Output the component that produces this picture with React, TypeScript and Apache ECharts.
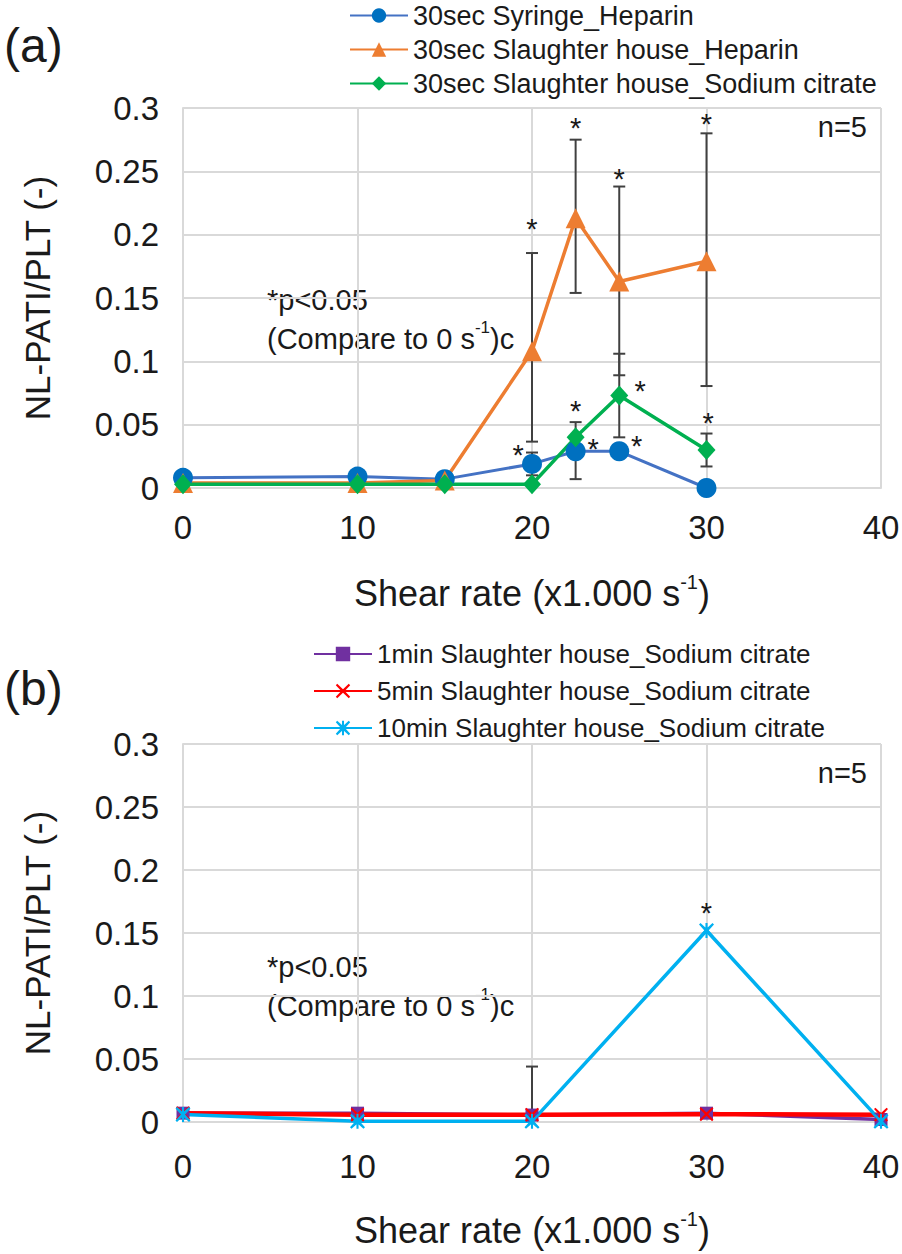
import React, { useRef, useEffect } from 'react';
import * as echarts from 'echarts';

const FONT = '"Liberation Sans", Arial, sans-serif';
const INK = '#1a1a1a';
const GRID = '#D9D9D9';
const BAR = '#404040';

// panel (a)
const namesA = [
  '30sec Syringe_Heparin',
  '30sec Slaughter house_Heparin',
  '30sec Slaughter house_Sodium citrate',
];
const shearA = [0, 10, 15, 20, 22.5, 25, 30];
const syringeHeparin = [0.008, 0.009, 0.007, 0.019, 0.029, 0.029, 0];
const slaughterHeparin = [0.004, 0.004, 0.006, 0.108, 0.213, 0.163, 0.179];
const slaughterCitrate = [0.003, 0.003, 0.003, 0.003, 0.04, 0.073, 0.03];
// [x, low, high]
const errorsA = [
  [20, 0.0366, 0.1855],
  [20, 0.01, 0.028],
  [22.5, 0.154, 0.275],
  [22.5, 0.007, 0.052],
  [25, 0.089, 0.238],
  [25, 0.04, 0.106],
  [30, 0.0805, 0.28],
  [30, 0.017, 0.043],
];
const starsA = [
  [20, 0.209], [22.5, 0.289], [25, 0.249], [30, 0.292],
  [22.5, 0.0655], [26.2, 0.081], [30.1, 0.056],
  [19.2, 0.031], [23.5, 0.0355], [26, 0.038],
];

// panel (b)
const namesB = [
  '1min Slaughter house_Sodium citrate',
  '5min Slaughter house_Sodium citrate',
  '10min Slaughter house_Sodium citrate',
];
const shearB = [0, 10, 20, 30, 40];
const oneMin = [0.007, 0.007, 0.0055, 0.007, 0.002];
const fiveMin = [0.007, 0.0058, 0.0058, 0.0062, 0.0058];
const tenMin = [0.006, 0.0005, 0.0005, 0.152, 0.0005];
const errorsB = [[20, 0.0055, 0.044]];
const starsB = [[30, 0.171]];

const xTicks = [0, 10, 20, 30, 40];
const yTicks = [0, 0.05, 0.1, 0.15, 0.2, 0.25, 0.3];

const X_SYMBOL = 'path://M1,0 L5,3.8 L9,0 L10,1 L6.2,5 L10,9 L9,10 L5,6.2 L1,10 L0,9 L3.8,5 L0,1 Z';
const STAR_SYMBOL =
  'path://M1,0 L5,3.6 L9,0 L10,1 L6.4,5 L10,9 L9,10 L5,6.4 L1,10 L0,9 L3.6,5 L0,1 Z M4.3,0 L5.7,0 L5.7,10 L4.3,10 Z';

const pairs = (xs: number[], ys: number[]) => xs.map((x, i) => [x, ys[i]]);

const errorSeries = (data: number[][], idx: number) => ({
  type: 'custom',
  xAxisIndex: idx,
  yAxisIndex: idx,
  z: 1,
  silent: true,
  encode: { x: 0, y: [1, 2] },
  data,
  renderItem: (_p: any, api: any) => {
    const lo = api.coord([api.value(0), api.value(1)]);
    const hi = api.coord([api.value(0), api.value(2)]);
    const w = 6;
    const style = { stroke: BAR, lineWidth: 2 };
    return {
      type: 'group',
      children: [
        { type: 'line', shape: { x1: lo[0], y1: lo[1], x2: hi[0], y2: hi[1] }, style },
        { type: 'line', shape: { x1: lo[0] - w, y1: lo[1], x2: lo[0] + w, y2: lo[1] }, style },
        { type: 'line', shape: { x1: hi[0] - w, y1: hi[1], x2: hi[0] + w, y2: hi[1] }, style },
      ],
    };
  },
});

const starSeries = (data: number[][], idx: number) => ({
  type: 'custom',
  xAxisIndex: idx,
  yAxisIndex: idx,
  z: 5,
  silent: true,
  data,
  renderItem: (_p: any, api: any) => {
    const p = api.coord([api.value(0), api.value(1)]);
    return {
      type: 'text',
      x: p[0],
      y: p[1] + 6,
      style: { text: '*', fontSize: 29, fontFamily: FONT, fill: INK, align: 'center', verticalAlign: 'middle' },
    };
  },
});

const xAxis = (idx: number, gap: number, margin: number) => ({
  type: 'value',
  gridIndex: idx,
  min: xTicks[0],
  max: xTicks[xTicks.length - 1],
  interval: 10,
  name: 'Shear rate (x1.000 s{sup|-1})',
  nameLocation: 'middle',
  nameGap: gap,
  nameTextStyle: {
    fontSize: 36,
    fontFamily: FONT,
    color: INK,
    lineHeight: 42,
    rich: { sup: { fontSize: 20, fontFamily: FONT, color: INK, verticalAlign: 'top', lineHeight: 30 } },
  },
  axisLine: { show: true, lineStyle: { color: GRID, width: 2 } },
  axisTick: { show: false },
  splitLine: { show: true, lineStyle: { color: GRID, width: 2 } },
  axisLabel: { fontSize: 33, fontFamily: FONT, color: INK, margin },
});

const yAxis = (idx: number) => ({
  type: 'value',
  gridIndex: idx,
  min: yTicks[0],
  max: yTicks[yTicks.length - 1],
  interval: 0.05,
  name: 'NL-PATI/PLT (-)',
  nameLocation: 'middle',
  nameGap: 128,
  nameTextStyle: { fontSize: 35, fontFamily: FONT, color: INK },
  axisLine: { show: true, lineStyle: { color: GRID, width: 2 } },
  axisTick: { show: false },
  splitLine: { show: true, lineStyle: { color: GRID, width: 2 } },
  axisLabel: {
    fontSize: 33,
    fontFamily: FONT,
    color: INK,
    margin: 24,
    formatter: (v: number) => String(+v.toFixed(2)),
  },
});

const lineSeries = (
  name: string,
  idx: number,
  data: number[][],
  lineColor: string,
  markColor: string,
  symbol: string,
  symbolSize: number | number[],
  width: number
) => ({
  type: 'line',
  name,
  xAxisIndex: idx,
  yAxisIndex: idx,
  data,
  symbol,
  symbolSize,
  z: 3,
  lineStyle: { color: lineColor, width },
  itemStyle: { color: markColor },
});

const legend = (names: string[], left: number, top: number, gap: number, size: number) => ({
  data: names,
  orient: 'vertical',
  left,
  top,
  padding: 0,
  itemWidth: 58,
  itemHeight: 18,
  itemGap: gap,
  selectedMode: false,
  textStyle: { fontSize: size, fontFamily: FONT, color: INK },
});

const annotation = (x: number, y: number) => [
  {
    type: 'text',
    x,
    y,
    style: { text: '*p<0.05', fontSize: 29, fontFamily: FONT, fill: INK, verticalAlign: 'middle' },
  },
  {
    type: 'text',
    x,
    y: y + 39,
    style: {
      text: '(Compare to 0 s{sup|-1})c',
      fontSize: 29,
      fontFamily: FONT,
      fill: INK,
      verticalAlign: 'middle',
      lineHeight: 40,
      rich: { sup: { fontSize: 17, fontFamily: FONT, fill: INK, verticalAlign: 'top', lineHeight: 10 } },
    },
  },
];

const App: React.FC = () => {
  const chartRef = useRef<HTMLDivElement>(null);

  useEffect(() => {
    document.body.style.margin = '0';
    const chart = echarts.init(chartRef.current, null, { renderer: 'svg' });

    const option = {
      animation: false,
      backgroundColor: '#ffffff',
      textStyle: { fontFamily: FONT },
      grid: [
        { left: 183, top: 108, width: 698, height: 380, outerBoundsMode: 'none' },
        { left: 183, top: 744, width: 698, height: 378, outerBoundsMode: 'none' },
      ],
      xAxis: [xAxis(0, 84, 23), xAxis(1, 87, 28)],
      yAxis: [yAxis(0), yAxis(1)],
      legend: [legend(namesA, 349, 2, 7, 27), legend(namesB, 313, 641, 11, 26)],
      graphic: [
        { type: 'text', x: 4, y: 45, style: { text: '(a)', fontSize: 48, fontFamily: FONT, fill: INK, verticalAlign: 'middle' } },
        { type: 'text', x: 4, y: 688, style: { text: '(b)', fontSize: 48, fontFamily: FONT, fill: INK, verticalAlign: 'middle' } },
        { type: 'text', x: 867, y: 127, style: { text: 'n=5', fontSize: 29, fontFamily: FONT, fill: INK, align: 'right', verticalAlign: 'middle' } },
        { type: 'text', x: 867, y: 773, style: { text: 'n=5', fontSize: 29, fontFamily: FONT, fill: INK, align: 'right', verticalAlign: 'middle' } },
        ...annotation(267, 300),
        ...annotation(267, 967),
      ],
      series: [
        errorSeries(errorsA, 0),
        lineSeries(namesA[0], 0, pairs(shearA, syringeHeparin), '#4472C4', '#0070C0', 'circle', 20, 3),
        lineSeries(namesA[1], 0, pairs(shearA, slaughterHeparin), '#ED7D31', '#ED7D31', 'triangle', 20, 3.5),
        lineSeries(namesA[2], 0, pairs(shearA, slaughterCitrate), '#00B050', '#00B050', 'diamond', [18, 20], 3.5),
        starSeries(starsA, 0),
        errorSeries(errorsB, 1),
        lineSeries(namesB[0], 1, pairs(shearB, oneMin), '#7030A0', '#7030A0', 'rect', 13, 3.5),
        lineSeries(namesB[1], 1, pairs(shearB, fiveMin), '#FF0000', '#FF0000', X_SYMBOL, 14, 4.5),
        lineSeries(namesB[2], 1, pairs(shearB, tenMin), '#00B0F0', '#00B0F0', STAR_SYMBOL, 15, 3.5),
        starSeries(starsB, 1),
      ],
    };

    chart.setOption(option as any);
    return () => {
      chart.dispose();
    };
  }, []);

  return <div ref={chartRef} style={{ width: '902px', height: '1254px' }} />;
};

export default App;
